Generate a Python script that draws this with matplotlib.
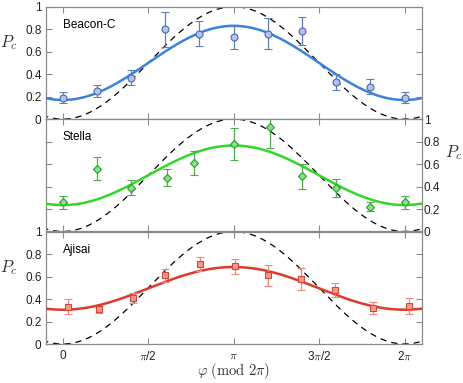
import numpy as np
import matplotlib
matplotlib.use("Agg")
import matplotlib.pyplot as plt
import matplotlib.ticker as mticker

plt.rcParams["font.family"] = ["Liberation Sans", "DejaVu Sans"]
plt.rcParams["mathtext.fontset"] = "cm"

# ── Data (phase in units of pi) ──────────────────────────────────────────────
beacon_phi = [0.0, 0.2, 0.4, 0.6, 0.8, 1.0, 1.2, 1.4, 1.6, 1.8, 2.0]
beacon_pc = [0.19, 0.25, 0.37, 0.80, 0.76, 0.73, 0.76, 0.78, 0.33, 0.29, 0.19]
beacon_err = [0.05, 0.05, 0.07, 0.155, 0.11, 0.11, 0.14, 0.125, 0.07, 0.07, 0.05]
beacon_fit = (0.50, 0.33)  # offset, amplitude

stella_phi = [0.0, 0.2, 0.4, 0.61, 0.77, 1.0, 1.21, 1.4, 1.6, 1.8, 2.0]
stella_pc = [0.26, 0.56, 0.39, 0.48, 0.61, 0.78, 0.93, 0.49, 0.39, 0.22, 0.26]
stella_err = [0.06, 0.10, 0.065, 0.075, 0.11, 0.14, 0.19, 0.11, 0.08, 0.04, 0.06]
stella_fit = (0.50, 0.265)

ajisai_phi = [0.03, 0.21, 0.41, 0.60, 0.805, 1.005, 1.20, 1.395, 1.59, 1.815, 2.025]
ajisai_pc = [0.33, 0.31, 0.41, 0.61, 0.71, 0.69, 0.61, 0.58, 0.48, 0.32, 0.34]
ajisai_err = [0.067, 0.03, 0.043, 0.056, 0.062, 0.068, 0.09, 0.099, 0.062, 0.05, 0.07]
ajisai_fit = (0.495, 0.19)

xtick_pos = [0.0, 0.5, 1.0, 1.5, 2.0]
xtick_labels = ["0", r"$\pi$/2", r"$\pi$", r"3$\pi$/2", r"2$\pi$"]

SPINE = "#8a8a8a"
TXT = "#222222"

panels = [
    dict(name="Beacon-C", phi=beacon_phi, pc=beacon_pc, err=beacon_err, fit=beacon_fit,
         line="#3b82dc", face="#b3c2ec", edge="#4a69a8", ecol="#5d80b8", marker="o", ms=5.0,
         right=False),
    dict(name="Stella", phi=stella_phi, pc=stella_pc, err=stella_err, fit=stella_fit,
         line="#33d62a", face="#86e486", edge="#2e9a2e", ecol="#4faa4f", marker="D", ms=4.2,
         right=True),
    dict(name="Ajisai", phi=ajisai_phi, pc=ajisai_pc, err=ajisai_err, fit=ajisai_fit,
         line="#dd3a2a", face="#f39a88", edge="#d2453a", ecol="#ea8a80", marker="s", ms=4.2,
         right=False),
]

fig = plt.figure(figsize=(4.63, 3.83), dpi=100)
left, width = 0.0987, 0.812
bottoms = [0.689, 0.3956, 0.1018]
height = 0.2935

xs = np.linspace(-0.12 * np.pi, 2.12 * np.pi, 400)

for p, b in zip(panels, bottoms):
    ax = fig.add_axes([left, b, width, height])
    ax.set_xlim(-0.1 * np.pi, 2.1 * np.pi)
    ax.set_ylim(0, 1)

    # classical reference (dashed) and fit
    ax.plot(xs, (1 - np.cos(xs)) / 2, color="black", lw=0.9, dashes=(5, 4), zorder=2)
    off, amp = p["fit"]
    ax.plot(xs, off - amp * np.cos(xs), color=p["line"], lw=1.8, zorder=3)

    phi = np.array(p["phi"]) * np.pi
    ax.errorbar(phi, p["pc"], yerr=p["err"], fmt=p["marker"], ms=p["ms"],
                mfc=p["face"], mec=p["edge"], mew=0.8, ecolor=p["ecol"],
                elinewidth=0.9, capsize=2.6, capthick=0.9, zorder=4)

    ax.text(0.045, 0.84, p["name"], transform=ax.transAxes, fontsize=8.5,
            color="black", va="center", ha="left")

    for s in ax.spines.values():
        s.set_color(SPINE)
        s.set_linewidth(0.9)

    ax.set_xticks(np.array(xtick_pos) * np.pi)
    ax.set_yticks([0, 0.2, 0.4, 0.6, 0.8, 1.0])
    ax.yaxis.set_major_formatter(mticker.FuncFormatter(lambda v, _: f"{v:g}"))
    ax.tick_params(direction="in", length=4, width=0.8, color=SPINE,
                   top=True, right=True, labelsize=8.5, labelcolor=TXT, pad=3)

    if p["right"]:
        ax.tick_params(axis="y", labelleft=False, labelright=True, pad=1.5)
        ax.text(1.085, 0.70, r"$P_c$", transform=ax.transAxes, fontsize=12,
                color="#333333", ha="center", va="center")
    else:
        ax.text(-0.097, 0.68, r"$P_c$", transform=ax.transAxes, fontsize=12,
                color="#333333", ha="center", va="center")

    if p is panels[-1]:
        ax.set_xticklabels(xtick_labels)
        ax.tick_params(axis="x", labelsize=8.5, pad=4)
        ax.set_xlabel(r"$\varphi\ (\mathrm{mod}\ 2\pi)$", fontsize=10.5, color="#333333",
                      labelpad=-1)
    else:
        ax.tick_params(axis="x", labelbottom=False)

fig.savefig("out.png", dpi=100, facecolor="white")
